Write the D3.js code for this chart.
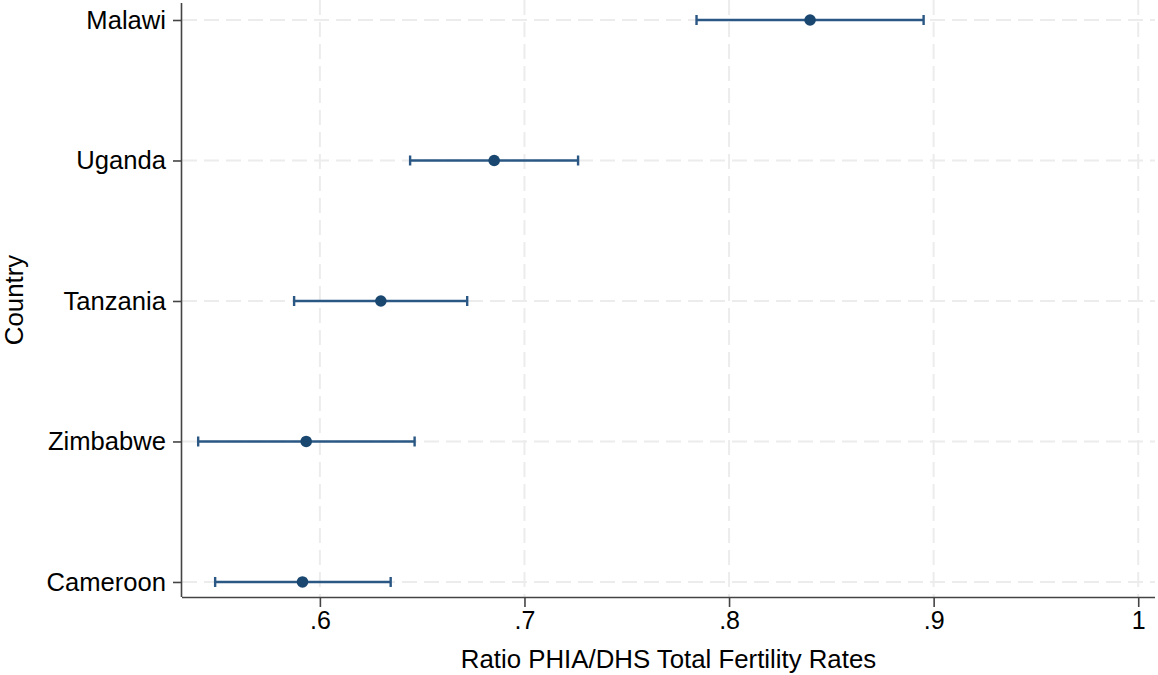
<!DOCTYPE html>
<html>
<head>
<meta charset="utf-8">
<script src="https://cdn.jsdelivr.net/npm/d3@7"></script>
<style>
  html, body { margin: 0; padding: 0; background: #fff; }
  svg { display: block; }
  text { font-family: "Liberation Sans", Arial, sans-serif; fill: #000; }
</style>
</head>
<body>
<svg id="chart" width="1158" height="675"></svg>
<script>
// Data
const countries = ["Malawi", "Uganda", "Tanzania", "Zimbabwe", "Cameroon"];
const ratio     = [0.8396, 0.6852, 0.6298, 0.5933, 0.5915];
const lower     = [0.7841, 0.6441, 0.5874, 0.5405, 0.5488];
const upper     = [0.8951, 0.7262, 0.6720, 0.6463, 0.6346];
const xTicks    = [0.6, 0.7, 0.8, 0.9, 1.0];
const xTickLabels = [".6", ".7", ".8", ".9", "1"];
const yPos      = [5, 4, 3, 2, 1];

(function () {
const svg = d3.select("#chart");
const pL = 182, pR = 1155, pT = 3, pB = 597;

const x = d3.scaleLinear().domain([0.5326, 1.0082]).range([pL, pR]);
const y = d3.scaleLinear().domain([0.893, 5.121]).range([pB, pT]);

const navy = "#1a476f";
const grid = "#ececec";

// Gridlines
const g = svg.append("g");
g.selectAll("line.vgrid").data(xTicks).enter().append("line")
  .attr("x1", d => x(d)).attr("x2", d => x(d))
  .attr("y1", 0).attr("y2", pB)
  .attr("stroke", grid).attr("stroke-width", 2)
  .attr("stroke-dasharray", "15,7");
g.selectAll("line.hgrid").data(yPos).enter().append("line")
  .attr("x1", pL).attr("x2", pR)
  .attr("y1", d => y(d)).attr("y2", d => y(d))
  .attr("stroke", grid).attr("stroke-width", 2)
  .attr("stroke-dasharray", "15,7");

// Axes
const xAxis = d3.axisBottom(x).tickValues(xTicks)
  .tickFormat((d, i) => xTickLabels[i]).tickSize(10).tickPadding(4).tickSizeOuter(0);
const xg = svg.append("g").attr("transform", `translate(0,${pB})`).call(xAxis);
xg.select(".domain").attr("stroke", "#444").attr("stroke-width", 1.6)
  .attr("d", `M${pL},0.5H${pR}`);
xg.selectAll(".tick line").attr("stroke", "#444").attr("stroke-width", 1.6);
xg.selectAll(".tick text").style("font-size", "25px").attr("fill", "#000")
  .style("font-family", "'Liberation Sans', Arial, sans-serif");

const yAxis = d3.axisLeft(y).tickValues(yPos)
  .tickFormat((d, i) => countries[i]).tickSize(9).tickPadding(7).tickSizeOuter(0);
const yg = svg.append("g").attr("transform", `translate(${pL},0)`).call(yAxis);
yg.select(".domain").attr("stroke", "#444").attr("stroke-width", 1.6)
  .attr("d", `M-0.5,${pT}V${pB}`);
yg.selectAll(".tick line").attr("stroke", "#444").attr("stroke-width", 1.6);
yg.selectAll(".tick text").style("font-size", "25.6px").attr("fill", "#000")
  .style("font-family", "'Liberation Sans', Arial, sans-serif");

// Axis titles
svg.append("text")
  .attr("x", (pL + pR) / 2).attr("y", 668)
  .attr("text-anchor", "middle").style("font-size", "25.8px")
  .text("Ratio PHIA/DHS Total Fertility Rates");
svg.append("text")
  .attr("transform", `translate(23,${(pT + pB) / 2}) rotate(-90)`)
  .attr("text-anchor", "middle").style("font-size", "25.8px")
  .text("Country");

// Error bars
const data = countries.map((c, i) => ({ c, v: ratio[i], lo: lower[i], hi: upper[i], p: yPos[i] }));
const eb = svg.append("g");
const ebColor = "#2a5783";
eb.selectAll("line.bar").data(data).enter().append("line")
  .attr("x1", d => x(d.lo)).attr("x2", d => x(d.hi))
  .attr("y1", d => y(d.p)).attr("y2", d => y(d.p))
  .attr("stroke", ebColor).attr("stroke-width", 2.4);
eb.selectAll("line.capl").data(data).enter().append("line")
  .attr("x1", d => x(d.lo)).attr("x2", d => x(d.lo))
  .attr("y1", d => y(d.p) - 5).attr("y2", d => y(d.p) + 5)
  .attr("stroke", ebColor).attr("stroke-width", 2.4);
eb.selectAll("line.caph").data(data).enter().append("line")
  .attr("x1", d => x(d.hi)).attr("x2", d => x(d.hi))
  .attr("y1", d => y(d.p) - 5).attr("y2", d => y(d.p) + 5)
  .attr("stroke", ebColor).attr("stroke-width", 2.4);
eb.selectAll("circle").data(data).enter().append("circle")
  .attr("cx", d => x(d.v)).attr("cy", d => y(d.p)).attr("r", 5.8)
  .attr("fill", navy);
})();
</script>
</body>
</html>
